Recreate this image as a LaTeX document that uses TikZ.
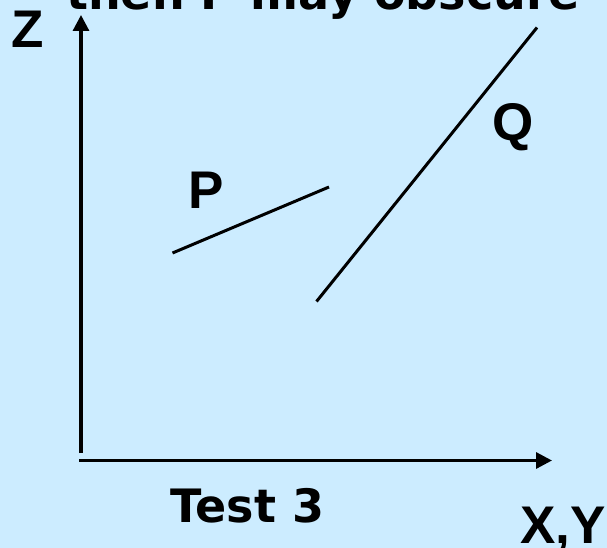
\documentclass[tikz,border=0pt]{standalone}
\usepackage{fontspec}
\setmainfont{Liberation Sans}
\newfontfamily\handfont{DejaVu Sans}
\definecolor{slideblue}{RGB}{204, 236, 255}
\usetikzlibrary{arrows.meta, positioning}

\begin{document}
\begin{tikzpicture}[x=1pt, y=-1pt,
  axis/.style={line width=3.2pt, -{Triangle[length=16pt, width=16pt]}},
  seg/.style={line width=3pt},
  lbl/.style={font=\fontsize{53}{53}\selectfont\bfseries, inner sep=0pt, anchor=base},
  hand/.style={font=\handfont\fontsize{46}{46}\selectfont\bfseries, inner sep=0pt, anchor=base west}]
  \fill[slideblue] (0,0) rectangle (607,548);
  \useasboundingbox (0,0) rectangle (607,548);

  % axes
  \coordinate (origin) at (81,453);
  \coordinate (zend) at (81,15);
  \coordinate (xorigin) at (79,460.5);
  \coordinate (xend) at (552,460.5);
  \draw[axis] (origin) -- (zend);
  \draw[axis] (xorigin) -- (xend);

  % polygons seen edge-on
  \coordinate (p1) at (172.5,253);
  \coordinate (p2) at (329,187);
  \coordinate (q1) at (316.5,301.5);
  \coordinate (q2) at (537,27.5);
  \draw[seg] (p1) -- (p2);
  \draw[seg] (q1) -- (q2);

  % labels
  \node[lbl] (zlabel) at (28,48) {Z};
  \node[lbl] (plabel) at (206,208) {P};
  \node[lbl] (qlabel) at (513,141) {Q};
  \node[lbl, anchor=base west] (xylabel) at (520,543) {X,Y};
  \node[hand] (testlabel) at (170,522) {Test 3};
  \node[hand] (title) at (66,10) {then P may obscure};
\end{tikzpicture}
\end{document}
